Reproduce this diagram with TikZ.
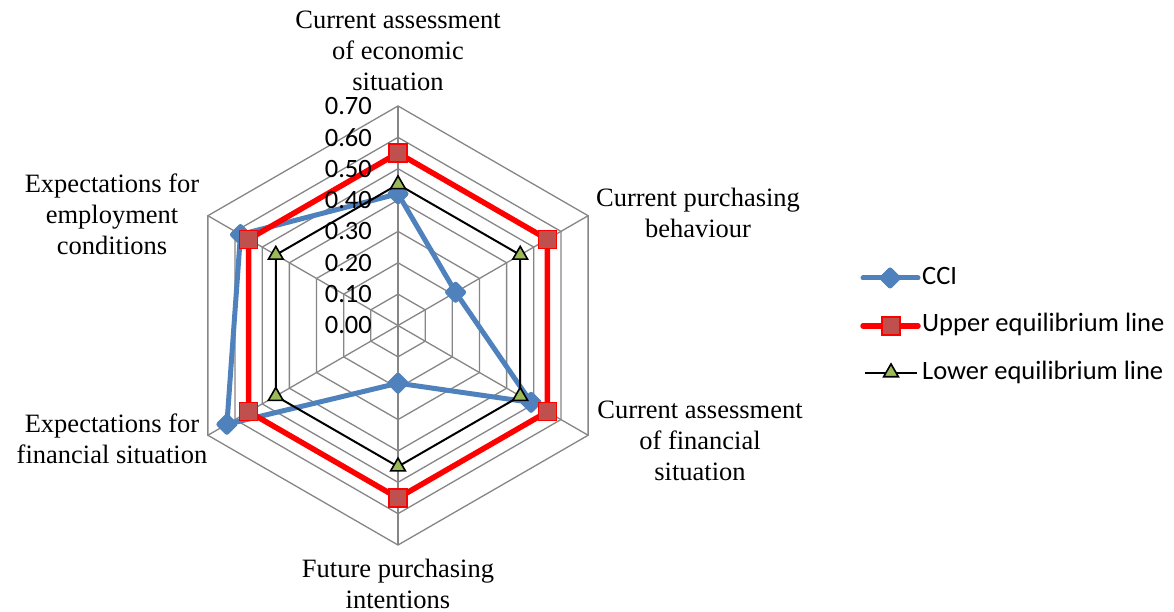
\documentclass[tikz,border=0pt]{standalone}
\usepackage{fontspec}
\setmainfont{Liberation Serif}
\newfontfamily\calfont{Carlito}
\usetikzlibrary{shapes.geometric}
\definecolor{gridgray}{RGB}{134,134,134}
\definecolor{cciblue}{RGB}{79,129,189}
\definecolor{sqfill}{RGB}{192,80,77}
\definecolor{trifill}{RGB}{155,187,89}
\begin{document}
\begin{tikzpicture}[x=1pt,y=1pt,
  gridline/.style={draw=gridgray, line width=1.3pt},
  cciline/.style={draw=cciblue, line width=5pt, line join=round, line cap=round},
  upline/.style={draw=red, line width=5.5pt, line join=miter},
  lowline/.style={draw=black, line width=2pt},
  ccimark/.style={diamond, fill=cciblue, draw=cciblue, line width=1pt, rounded corners=2pt,
    minimum width=22pt, minimum height=22pt, inner sep=0pt},
  upmark/.style={rectangle, fill=sqfill, draw=red, line width=1.2pt, minimum size=18pt, inner sep=0pt},
  lowmark/.style={regular polygon, regular polygon sides=3, fill=trifill, draw=black,
    line width=1.6pt, minimum size=17pt, inner sep=0pt},
  catlabel/.style={align=center, inner sep=0pt, anchor=north,
    font=\fontsize{26.5}{31}\selectfont},
  ticklabel/.style={anchor=east, inner sep=0pt, font=\calfont\fontsize{26.5}{30}\selectfont},
  legtext/.style={anchor=base west, inner sep=0pt, font=\calfont\fontsize{26.5}{30}\selectfont}]
\useasboundingbox (0,0) rectangle (1174,612);
\fill[white] (0,0) rectangle (1174,612);

\begin{scope}[shift={(398,286.5)}]
  % concentric hexagons, one per 0.10
  \foreach \k in {1,...,7} {
    \pgfmathsetmacro{\r}{\k*31.36}
    \draw[gridline] (90:\r) -- (30:\r) -- (-30:\r) -- (-90:\r) -- (210:\r) -- (150:\r) -- cycle;
  }
  % spokes
  \foreach \a in {90,30,-30,-90,210,150}
    \draw[gridline] (0,0) -- (\a:219.52);

  % data points (value * 313.6)
  \coordinate (c1) at (90:0.42*313.6);
  \coordinate (c2) at (30:0.212*313.6);
  \coordinate (c3) at (-30:0.49*313.6);
  \coordinate (c4) at (-90:0.184*313.6);
  \coordinate (c5) at (210:0.63*313.6);
  \coordinate (c6) at (150:0.58*313.6);
  \foreach \a [count=\i] in {90,30,-30,-90,210,150} {
    \coordinate (u\i) at (\a:0.55*313.6);
    \coordinate (l\i) at (\a:0.45*313.6);
  }

  % CCI series
  \draw[cciline] (c1) -- (c2) -- (c3) -- (c4) -- (c5) -- (c6) -- cycle;
  \foreach \i in {1,...,6} \node[ccimark] (cm\i) at (c\i) {};

  % upper equilibrium line
  \draw[upline] (u1) -- (u2) -- (u3) -- (u4) -- (u5) -- (u6) -- cycle;
  \foreach \i in {1,...,6} \node[upmark] (um\i) at (u\i) {};

  % lower equilibrium line
  \draw[lowline] (l1) -- (l2) -- (l3) -- (l4) -- (l5) -- (l6) -- cycle;
  \foreach \i in {1,...,6} \node[lowmark] (lm\i) at (l\i) {};

  % value axis labels
  \foreach \k/\t in {0/0.00,1/0.10,2/0.20,3/0.30,4/0.40,5/0.50,6/0.60,7/0.70}
    \node[ticklabel] (tick\k) at (-26,\k*31.36) {\t};
\end{scope}

% category labels
\node[catlabel] (catA) at (398,601) {Current assessment\\of economic\\situation};
\node[catlabel] (catB) at (698,424) {Current purchasing\\behaviour};
\node[catlabel] (catC) at (700,211) {Current assessment\\of financial\\situation};
\node[catlabel] (catD) at (398,53) {Future purchasing\\intentions};
\node[catlabel] (catE) at (112,198) {Expectations for\\financial situation};
\node[catlabel] (catF) at (112,438) {Expectations for\\employment\\conditions};

% legend
\coordinate (lgA1) at (863,334);   \coordinate (lgA2) at (918,334);
\coordinate (lgB1) at (863,286);   \coordinate (lgB2) at (918,286);
\coordinate (lgC1) at (865,238.7); \coordinate (lgC2) at (917,238.7);
\draw[cciline] (lgA1) -- (lgA2);
\node[ccimark] (lgAm) at (890,334) {};
\draw[upline, line cap=round] (lgB1) -- (lgB2);
\node[upmark] (lgBm) at (891,286) {};
\draw[lowline] (lgC1) -- (lgC2);
\node[lowmark] (lgCm) at (891,239.5) {};
\node[legtext] (lgAt) at (922,327) {CCI};
\node[legtext] (lgBt) at (922,280.3) {Upper equilibrium line};
\node[legtext] (lgCt) at (922,232) {Lower equilibrium line};
\end{tikzpicture}
\end{document}
